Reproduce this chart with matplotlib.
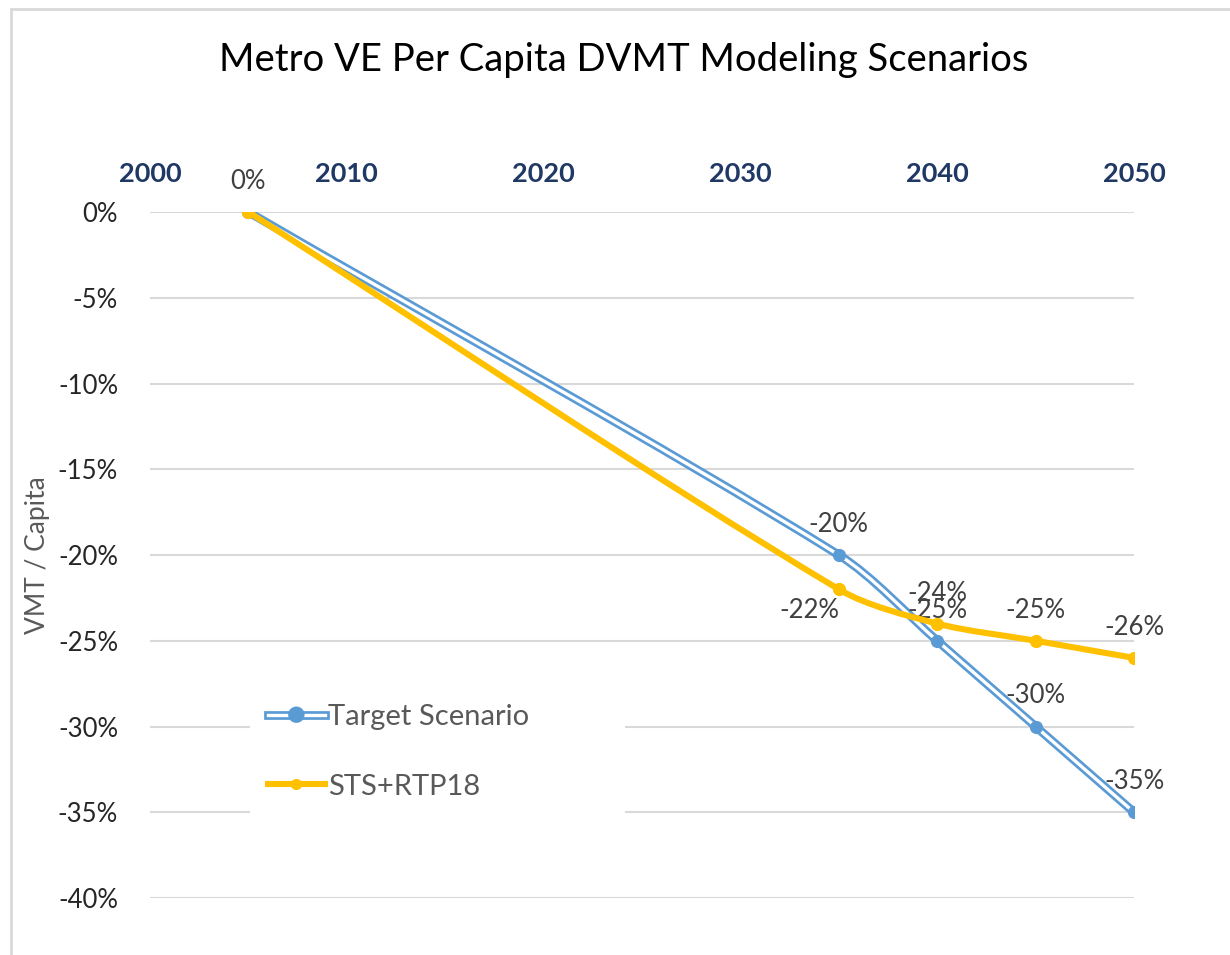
import matplotlib
matplotlib.use('Agg')
import matplotlib.pyplot as plt
import matplotlib.patheffects as pe
from matplotlib.path import Path
from matplotlib.patches import PathPatch, Rectangle
from matplotlib.lines import Line2D

plt.rcParams['font.family'] = ['Lato', 'DejaVu Sans']

title = 'Metro VE Per Capita DVMT Modeling Scenarios'
years = [2005, 2035, 2040, 2045, 2050]
target = [0.0, -0.20, -0.25, -0.30, -0.35]
sts_rtp = [0.0, -0.22, -0.24, -0.25, -0.26]
xticks = [2000, 2010, 2020, 2030, 2040, 2050]
yticks = [0, -0.05, -0.10, -0.15, -0.20, -0.25, -0.30, -0.35, -0.40]

blue = '#5B9BD5'
gold = '#FFC000'
lbl_col = '#404040'

# rough pixel scale of the axes, used only to shape the smoothing
sx = 984 / 50.0
sy = 686 / 0.40


def smooth_path(xs, ys, tension=0.3):
    # smoothed line through the points, bezier segments
    pts = [(x * sx, y * sy) for x, y in zip(xs, ys)]
    n = len(pts)
    tans = []
    for i in range(n):
        a = pts[max(i - 1, 0)]
        b = pts[min(i + 1, n - 1)]
        dx, dy = b[0] - a[0], b[1] - a[1]
        d = (dx * dx + dy * dy) ** 0.5
        tans.append((dx / d, dy / d))
    verts = [(xs[0], ys[0])]
    codes = [Path.MOVETO]
    for i in range(n - 1):
        p, q = pts[i], pts[i + 1]
        L = ((q[0] - p[0]) ** 2 + (q[1] - p[1]) ** 2) ** 0.5 * tension
        c1 = (p[0] + tans[i][0] * L, p[1] + tans[i][1] * L)
        c2 = (q[0] - tans[i + 1][0] * L, q[1] - tans[i + 1][1] * L)
        for c in (c1, c2, q):
            verts.append((c[0] / sx, c[1] / sy))
        codes += [Path.CURVE4] * 3
    return Path(verts, codes)


fig = plt.figure(figsize=(12.3, 9.55), dpi=100)
fig.patches.append(Rectangle((11/1230, -0.1), 1.2, 1.1 - 9/955,
                             transform=fig.transFigure, fill=False,
                             edgecolor='#D9D9D9', linewidth=2))
ax = fig.add_axes([150/1230, 1 - 898/955, 984/1230, 686/955])

ax.set_xlim(2000, 2050)
ax.set_ylim(-0.40, 0)
for sp in ax.spines.values():
    sp.set_visible(False)
ax.xaxis.tick_top()
ax.set_xticks(xticks)
ax.set_xticklabels([str(t) for t in xticks], fontsize=19.5, fontweight='bold', color='#203864')
ax.set_yticks(yticks)
ax.set_yticklabels(['%d%%' % round(v * 100) for v in yticks], fontsize=18.5, color='#262626')
ax.tick_params(length=0)
ax.tick_params(axis='x', pad=19)
ax.tick_params(axis='y', pad=23)
ax.grid(axis='y', color='#D9D9D9', linewidth=1.5)
ax.set_axisbelow(True)
ax.set_ylabel('VMT / Capita', fontsize=19, color='#595959')
ax.yaxis.set_label_coords((50 - 150) / 984, 0.5)

# white legend area hides the gridlines behind it
ax.add_patch(Rectangle((100/984, 1 - (835 - 212)/686), 375/984, 175/686,
                       transform=ax.transAxes, facecolor='white', edgecolor='none', zorder=1))

# target scenario: outlined blue line
blue_fx = [pe.Stroke(linewidth=6.3, foreground=blue), pe.Normal()]
ax.add_patch(PathPatch(smooth_path(years, target), fill=False, edgecolor='white',
                       linewidth=2.4, path_effects=blue_fx, zorder=3, capstyle='round'))
ax.plot(years, target, linestyle='none', marker='o', markersize=8.5, color=blue, zorder=4)

# STS+RTP18
ax.add_patch(PathPatch(smooth_path(years, sts_rtp), fill=False, edgecolor=gold,
                       linewidth=4.4, zorder=5, capstyle='round'))
ax.plot(years, sts_rtp, linestyle='none', marker='o', markersize=8.5, color=gold, zorder=6)

# data labels
for i, (x, y) in enumerate(zip(years, target)):
    if i == 0:
        continue
    ax.annotate('%d%%' % round(y * 100), (x, y), xytext=(0, 13), textcoords='offset points',
                ha='center', va='bottom', fontsize=18.5, color=lbl_col)
for i, (x, y) in enumerate(zip(years, sts_rtp)):
    if i == 1:
        ax.annotate('%d%%' % round(y * 100), (x, y), xytext=(-21, -6), textcoords='offset points',
                    ha='center', va='top', fontsize=18.5, color=lbl_col)
    else:
        ax.annotate('%d%%' % round(y * 100), (x, y), xytext=(0, 13), textcoords='offset points',
                    ha='center', va='bottom', fontsize=18.5, color=lbl_col,
                    annotation_clip=False)

h1 = Line2D([], [], color='white', linewidth=2.4, marker='o', markersize=5.5,
            markerfacecolor=blue, markeredgecolor=blue, path_effects=blue_fx)
h2 = Line2D([], [], color=gold, linewidth=4.4, marker='o', markersize=7)
leg = ax.legend([h1, h2], ['Target Scenario', 'STS+RTP18'], loc='upper left',
                bbox_to_anchor=(80/984, 1 - 454/686), fontsize=21, frameon=False,
                handlelength=1.95, handletextpad=0.1, labelspacing=1.5, borderpad=0.8)
leg.set_zorder(7)
for t in leg.get_texts():
    t.set_color('#595959')

fig.text(624/1230, 1 - 60/955, title, ha='center', va='center', fontsize=27.5, color='black')

plt.savefig('out.png', dpi=100)
plt.close()
